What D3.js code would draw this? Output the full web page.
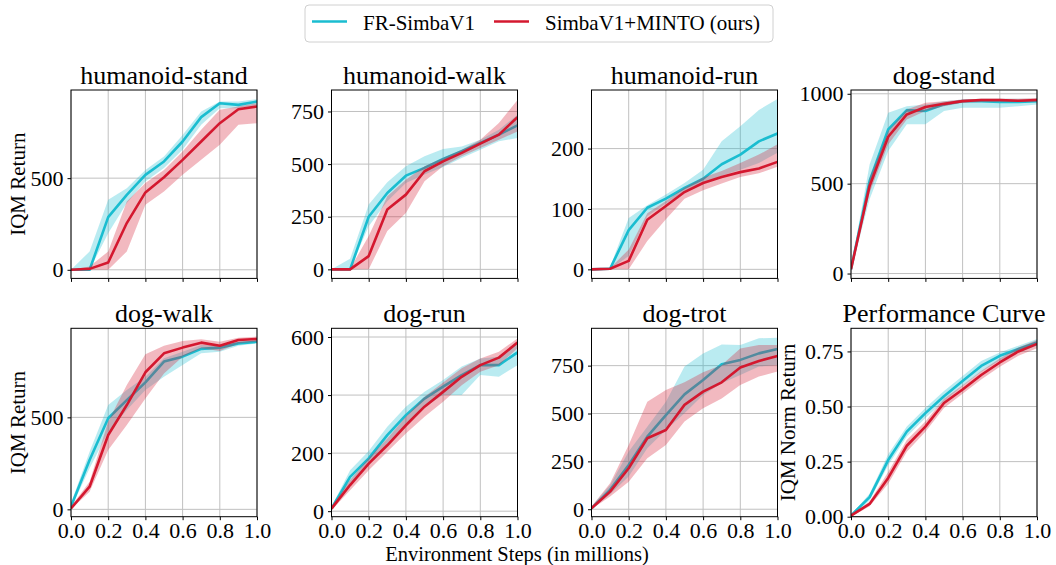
<!DOCTYPE html>
<html>
<head>
<meta charset="utf-8">
<script src="https://cdn.jsdelivr.net/npm/d3@7"></script>
<style>
  body { margin: 0; background: #fff; }
  svg { font-family: "Liberation Serif", "Times New Roman", serif; }
</style>
</head>
<body>
<div id="chart"></div>
<script>
const steps = [0, 0.1, 0.2, 0.3, 0.4, 0.5, 0.6, 0.7, 0.8, 0.9, 1.0];
const xTicks = [0, 0.2, 0.4, 0.6, 0.8, 1.0];
const seriesNames = ['FR-SimbaV1', 'SimbaV1+MINTO (ours)'];

// humanoid-stand
const hStandFr     = [0, 0, 287, 409, 518, 591, 700, 833, 909, 900, 918];
const hStandFrLo   = [0, 0, 200, 364, 482, 555, 655, 791, 882, 882, 900];
const hStandFrHi   = [0, 100, 382, 445, 545, 618, 736, 864, 918, 918, 931];
const hStandMt     = [0, 5, 40, 255, 422, 505, 600, 700, 800, 876, 891];
const hStandMtLo   = [0, 0, 0, 100, 355, 427, 518, 600, 682, 791, 800];
const hStandMtHi   = [0, 18, 100, 373, 473, 545, 645, 764, 873, 891, 909];

// humanoid-walk
const hWalkFr      = [0, 0, 250, 363, 445, 482, 524, 561, 600, 640, 684];
const hWalkFrLo    = [0, 0, 205, 324, 410, 450, 486, 529, 568, 608, 624];
const hWalkFrHi    = [0, 50, 308, 414, 490, 537, 572, 584, 616, 663, 734];
const hWalkMt      = [0, 0, 63, 284, 355, 466, 513, 553, 597, 640, 723];
const hWalkMtLo    = [0, 0, 0, 182, 268, 418, 490, 537, 576, 616, 655];
const hWalkMtHi    = [0, 3, 158, 347, 426, 490, 529, 568, 616, 695, 805];

// humanoid-run
const hRunFr       = [0, 1, 65, 102, 117, 135, 150, 174, 190, 212, 225];
const hRunFrLo     = [0, 0, 22, 88, 109, 128, 143, 155, 165, 176, 193];
const hRunFrHi     = [0, 4, 85, 106, 124, 143, 165, 212, 237, 264, 282];
const hRunMt       = [0, 1, 14, 82, 105, 128, 143, 153, 161, 167, 178];
const hRunMtLo     = [0, 0, 0, 47, 83, 117, 131, 142, 153, 159, 170];
const hRunMtHi     = [0, 2, 33, 93, 113, 135, 152, 163, 176, 190, 207];

// dog-stand
const dStandFr     = [24, 515, 802, 909, 904, 941, 959, 959, 954, 954, 959];
const dStandFrLo   = [15, 413, 681, 830, 830, 904, 922, 922, 922, 931, 941];
const dStandFrHi   = [33, 607, 894, 931, 941, 959, 968, 972, 972, 972, 972];
const dStandMt     = [24, 487, 761, 885, 926, 944, 959, 965, 965, 961, 965];
const dStandMtLo   = [15, 450, 718, 857, 904, 931, 950, 954, 954, 954, 957];
const dStandMtHi   = [33, 533, 793, 913, 950, 959, 968, 972, 972, 972, 976];

// dog-walk
const dWalkFr      = [15, 268, 495, 594, 690, 803, 830, 872, 879, 902, 911];
const dWalkFrLo    = [5, 223, 422, 540, 649, 721, 785, 848, 857, 889, 902];
const dWalkFrHi    = [33, 313, 567, 649, 721, 821, 857, 893, 893, 911, 920];
const dWalkMt      = [5, 123, 404, 567, 745, 848, 879, 906, 889, 920, 926];
const dWalkMtLo    = [0, 96, 323, 458, 603, 739, 830, 875, 861, 902, 911];
const dWalkMtHi    = [15, 150, 477, 676, 843, 889, 915, 924, 911, 933, 939];

// dog-run
const dRunFr       = [9, 118, 182, 262, 331, 388, 429, 469, 503, 503, 547];
const dRunFrLo     = [3, 95, 159, 233, 302, 360, 400, 400, 469, 463, 503];
const dRunFrHi     = [15, 141, 207, 291, 360, 411, 452, 498, 526, 532, 584];
const dRunMt       = [9, 90, 164, 227, 296, 360, 411, 463, 503, 529, 581];
const dRunMtLo     = [3, 72, 141, 205, 268, 325, 377, 434, 480, 503, 561];
const dRunMtHi     = [15, 107, 182, 250, 325, 394, 443, 492, 526, 549, 595];

// dog-trot
const dTrotFr      = [5, 101, 231, 379, 492, 600, 675, 757, 780, 814, 837];
const dTrotFrLo    = [0, 78, 171, 318, 414, 501, 597, 658, 701, 745, 753];
const dTrotFrHi    = [14, 127, 301, 431, 562, 745, 814, 861, 858, 893, 896];
const dTrotMt      = [5, 92, 214, 371, 414, 545, 614, 663, 740, 774, 800];
const dTrotMtLo    = [0, 66, 144, 266, 336, 458, 527, 579, 649, 693, 719];
const dTrotMtHi    = [14, 136, 336, 562, 623, 663, 715, 753, 840, 858, 858];

// performance curve (normalized)
const perfFr       = [0.005, 0.089, 0.257, 0.386, 0.470, 0.547, 0.616, 0.684, 0.730, 0.761, 0.791];
const perfFrLo     = [0.000, 0.073, 0.234, 0.364, 0.448, 0.524, 0.593, 0.658, 0.710, 0.745, 0.776];
const perfFrHi     = [0.009, 0.104, 0.283, 0.409, 0.493, 0.570, 0.638, 0.707, 0.745, 0.776, 0.806];
const perfMt       = [0.005, 0.058, 0.176, 0.322, 0.409, 0.516, 0.577, 0.643, 0.700, 0.750, 0.784];
const perfMtLo     = [0.000, 0.047, 0.150, 0.295, 0.386, 0.493, 0.558, 0.623, 0.680, 0.730, 0.765];
const perfMtHi     = [0.009, 0.069, 0.203, 0.348, 0.432, 0.535, 0.597, 0.661, 0.718, 0.768, 0.802];

const panels = [
  { title: 'humanoid-stand', ylabel: 'IQM Return', yDomain: [-47, 981], yTicks: [0, 500],
    fr: [hStandFr, hStandFrLo, hStandFrHi], mt: [hStandMt, hStandMtLo, hStandMtHi] },
  { title: 'humanoid-walk', yDomain: [-43, 852], yTicks: [0, 250, 500, 750],
    fr: [hWalkFr, hWalkFrLo, hWalkFrHi], mt: [hWalkMt, hWalkMtLo, hWalkMtHi] },
  { title: 'humanoid-run', yDomain: [-15, 297], yTicks: [0, 100, 200],
    fr: [hRunFr, hRunFrLo, hRunFrHi], mt: [hRunMt, hRunMtLo, hRunMtHi] },
  { title: 'dog-stand', yDomain: [-27, 1021], yTicks: [0, 500, 1000],
    fr: [dStandFr, dStandFrLo, dStandFrHi], mt: [dStandMt, dStandMtLo, dStandMtHi] },
  { title: 'dog-walk', ylabel: 'IQM Return', yDomain: [-40, 984], yTicks: [0, 500],
    fr: [dWalkFr, dWalkFrLo, dWalkFrHi], mt: [dWalkMt, dWalkMtLo, dWalkMtHi] },
  { title: 'dog-run', yDomain: [-19, 630], yTicks: [0, 200, 400, 600],
    fr: [dRunFr, dRunFrLo, dRunFrHi], mt: [dRunMt, dRunMtLo, dRunMtHi] },
  { title: 'dog-trot', yDomain: [-39, 945], yTicks: [0, 250, 500, 750],
    fr: [dTrotFr, dTrotFrLo, dTrotFrHi], mt: [dTrotMt, dTrotMtLo, dTrotMtHi] },
  { title: 'Performance Curve', ylabel: 'IQM Norm Return', yDomain: [0, 0.855], yTicks: [0, 0.25, 0.5, 0.75],
    fmt: d3.format('.2f'),
    fr: [perfFr, perfFrLo, perfFrHi], mt: [perfMt, perfMtLo, perfMtHi] }
];

const W = 1056, H = 565;
const colX = [71, 331.5, 591.5, 851];
const rowY = [90, 328.3];
const pw = 186, ph = 188.4;
const colors = { fr: '#1abdd0', mt: '#d4182f' };

const svg = d3.select('#chart').append('svg')
  .attr('width', W)
  .attr('height', H);

const x = d3.scaleLinear().domain([0, 1]).range([0, pw]);

panels.forEach((p, i) => {
  const row = Math.floor(i / 4), col = i % 4;
  const g = svg.append('g')
    .attr('transform', `translate(${colX[col]},${rowY[row]})`);
  const y = d3.scaleLinear().domain(p.yDomain).range([ph, 0]);

  const clipId = 'clip' + i;
  g.append('clipPath').attr('id', clipId)
    .append('rect').attr('width', pw).attr('height', ph);

  // grid
  const grid = g.append('g').attr('stroke', '#c0c0c0').attr('stroke-width', 1);
  grid.selectAll('.gx').data(xTicks).join('line')
    .attr('x1', d => x(d)).attr('x2', d => x(d))
    .attr('y1', 0).attr('y2', ph);
  grid.selectAll('.gy').data(p.yTicks).join('line')
    .attr('x1', 0).attr('x2', pw)
    .attr('y1', d => y(d)).attr('y2', d => y(d));

  const plot = g.append('g').attr('clip-path', `url(#${clipId})`);
  const area = d3.area()
    .x((d, k) => x(steps[k]))
    .y0(d => y(d[0]))
    .y1(d => y(d[1]));
  const line = d3.line()
    .x((d, k) => x(steps[k]))
    .y(d => y(d));

  [['fr', p.fr], ['mt', p.mt]].forEach(([key, s]) => {
    const [mean, lo, hi] = s;
    plot.append('path')
      .attr('d', area(lo.map((v, k) => [v, hi[k]])))
      .attr('fill', colors[key])
      .attr('fill-opacity', 0.3);
    plot.append('path')
      .attr('d', line(mean))
      .attr('fill', 'none')
      .attr('stroke', colors[key])
      .attr('stroke-width', 2.6)
      .attr('stroke-linejoin', 'round');
  });

  // axes
  const xAxis = d3.axisBottom(x).tickValues(xTicks).tickSize(3.5).tickPadding(2.5)
    .tickFormat(row === 1 ? d3.format('.1f') : '');
  const xg = g.append('g').attr('transform', `translate(0,${ph})`).call(xAxis);
  const yAxis = d3.axisLeft(y).tickValues(p.yTicks).tickSize(3.5).tickPadding(4)
    .tickFormat(p.fmt || d3.format('d'));
  const yg = g.append('g').call(yAxis);
  [xg, yg].forEach(a => {
    a.select('.domain').remove();
    a.selectAll('line').attr('stroke', '#000').attr('stroke-width', 1);
    a.selectAll('text')
      .attr('fill', '#000')
      .style('font-family', '"Liberation Serif", "Times New Roman", serif')
      .style('font-size', '22px');
  });

  g.append('rect')
    .attr('width', pw).attr('height', ph)
    .attr('fill', 'none').attr('stroke', '#000').attr('stroke-width', 1);

  g.append('text')
    .attr('x', pw / 2).attr('y', -6)
    .attr('text-anchor', 'middle')
    .attr('font-size', 26)
    .attr('fill', '#000')
    .text(p.title);

  if (p.ylabel) {
    const lx = col === 0 ? 25 - colX[col] : 795 - colX[col];
    g.append('text')
      .attr('transform', `translate(${lx},${ph / 2}) rotate(-90)`)
      .attr('text-anchor', 'middle')
      .attr('font-size', 21)
      .attr('fill', '#000')
      .text(p.ylabel);
  }
});

// x label
svg.append('text')
  .attr('x', 517).attr('y', 561)
  .attr('text-anchor', 'middle')
  .attr('font-size', 20.5)
  .attr('fill', '#000')
  .text('Environment Steps (in millions)');

// legend
const lg = svg.append('g');
lg.append('rect')
  .attr('x', 305).attr('y', 5).attr('width', 468).attr('height', 37)
  .attr('rx', 4).attr('fill', '#fff').attr('stroke', '#d0d0d0');
const legendItems = [
  { name: seriesNames[0], key: 'fr', x0: 312, tx: 363 },
  { name: seriesNames[1], key: 'mt', x0: 494, tx: 545 }
];
legendItems.forEach(it => {
  lg.append('line')
    .attr('x1', it.x0).attr('x2', it.x0 + 35)
    .attr('y1', 21.5).attr('y2', 21.5)
    .attr('stroke', colors[it.key]).attr('stroke-width', 2.6);
  lg.append('text')
    .attr('x', it.tx).attr('y', 30)
    .attr('font-size', 21)
    .attr('fill', '#000')
    .text(it.name);
});
</script>
</body>
</html>
